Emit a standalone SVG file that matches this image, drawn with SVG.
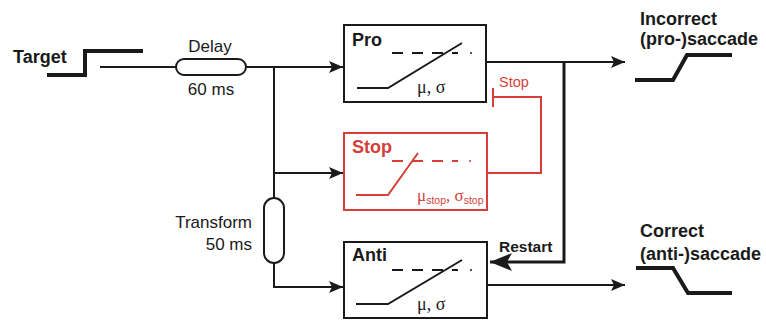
<svg xmlns="http://www.w3.org/2000/svg" width="766" height="320" viewBox="0 0 766 320">
<defs>
<marker id="arr" viewBox="0 0 14 12" refX="14" refY="6" markerWidth="14" markerHeight="12" markerUnits="userSpaceOnUse" orient="auto">
<path d="M0,0 L14,6 L0,12 L3,6 Z" fill="#1a1a1a"/>
</marker>
<marker id="arrBig" viewBox="0 0 22 18" refX="22" refY="9" markerWidth="22" markerHeight="18" markerUnits="userSpaceOnUse" orient="auto">
<path d="M0,0 L22,9 L0,18 L5,9 Z" fill="#1a1a1a"/>
</marker>
</defs>
<style>
.ln{fill:none;stroke:#1a1a1a;stroke-width:2}
.thick{fill:none;stroke:#1a1a1a;stroke-width:4}
.box{fill:#fff;stroke:#1a1a1a;stroke-width:2}
.rbox{fill:#fff;stroke:#d43f3a;stroke-width:2}
.rln{fill:none;stroke:#d43f3a;stroke-width:2}
.dash{fill:none;stroke:#1a1a1a;stroke-width:2;stroke-dasharray:11,9}
.rdash{fill:none;stroke:#d43f3a;stroke-width:2;stroke-dasharray:11,9}
.b{font-family:"Liberation Sans",Arial,sans-serif;font-weight:bold;font-size:18px;fill:#1a1a1a}
.t{font-family:"Liberation Sans",Arial,sans-serif;font-size:17px;fill:#1a1a1a}
.g{font-family:"Liberation Serif","Times New Roman",serif;font-size:18px;fill:#1a1a1a}
</style>
<rect width="766" height="320" fill="#fff"/>

<g id="connectors">
<path class="ln" d="M100,67 H176"/>
<path class="ln" d="M246,67 H343" marker-end="url(#arr)"/>
<path class="ln" d="M274,67 V198"/>
<path class="ln" d="M274,173 H343" marker-end="url(#arr)"/>
<path class="ln" d="M274,263 V287 H343" marker-end="url(#arr)"/>
<path class="ln" d="M486,62 H625" marker-end="url(#arr)"/>
<path class="ln" d="M487,285 H625" marker-end="url(#arr)"/>
<path fill="none" stroke="#1a1a1a" stroke-width="3" d="M564,62 V262 H490" marker-end="url(#arrBig)"/>
<path class="rln" d="M487,173 H541 V97 H493"/>
<path class="rln" d="M493,88 V107"/>
<text x="499" y="87" font-family="Liberation Sans, Arial, sans-serif" font-size="14.5" fill="#d43f3a">Stop</text>
<text x="499" y="252" font-family="Liberation Sans, Arial, sans-serif" font-weight="bold" font-size="15.5" fill="#1a1a1a">Restart</text>
</g>

<g id="target">
<path class="thick" d="M47,75 H85 V51 H143"/>
<text class="b" x="13" y="63">Target</text>
</g>

<g id="delay">
<rect class="box" x="176" y="59" width="70" height="16" rx="8"/>
<text class="t" x="210" y="52" text-anchor="middle">Delay</text>
<text class="t" x="211" y="95" text-anchor="middle">60 ms</text>
</g>

<g id="transform">
<rect class="box" x="264" y="198" width="20" height="65" rx="10"/>
<text class="t" x="252" y="228" text-anchor="end">Transform</text>
<text class="t" x="252" y="250" text-anchor="end">50 ms</text>
</g>

<g id="pro">
<rect class="box" x="344" y="25" width="142" height="77"/>
<text class="b" x="352" y="46">Pro</text>
<path class="dash" d="M392,53 H458"/>
<circle cx="471" cy="53" r="1" fill="#1a1a1a"/>
<path class="ln" d="M357,88 H388 L462,43"/>
<text class="g" x="417" y="93">μ, σ</text>
</g>

<g id="stop">
<rect class="rbox" x="344" y="133" width="143" height="77"/>
<text x="352" y="153" font-family="Liberation Sans, Arial, sans-serif" font-weight="bold" font-size="18" fill="#d43f3a">Stop</text>
<path class="rdash" d="M392,161 H458"/>
<circle cx="470" cy="161" r="1" fill="#d43f3a"/>
<path class="rln" d="M356,195 H388 L418,153"/>
<text x="417" y="201" font-family="Liberation Serif, Times New Roman, serif" font-size="17" fill="#d43f3a">μ<tspan font-size="10.5" font-family="Liberation Sans, Arial, sans-serif" dy="3">stop</tspan><tspan dy="-3">, σ</tspan><tspan font-size="10.5" font-family="Liberation Sans, Arial, sans-serif" dy="3">stop</tspan></text>
</g>

<g id="anti">
<rect class="box" x="344" y="242" width="143" height="76"/>
<text class="b" x="352" y="261">Anti</text>
<path class="dash" d="M392,270 H458"/>
<circle cx="471" cy="270" r="1" fill="#1a1a1a"/>
<path class="ln" d="M356,304 H388 L462,260"/>
<text class="g" x="417" y="310">μ, σ</text>
</g>

<g id="incorrect">
<text class="b" x="640" y="25">Incorrect</text>
<text class="b" x="640" y="45">(pro-)saccade</text>
<path class="thick" d="M635,80 H673 L687,55 H732"/>
</g>

<g id="correct">
<text class="b" x="640" y="237">Correct</text>
<text class="b" x="640" y="260">(anti-)saccade</text>
<path class="thick" d="M636,268 H673 L688,293 H732"/>
</g>
</svg>
